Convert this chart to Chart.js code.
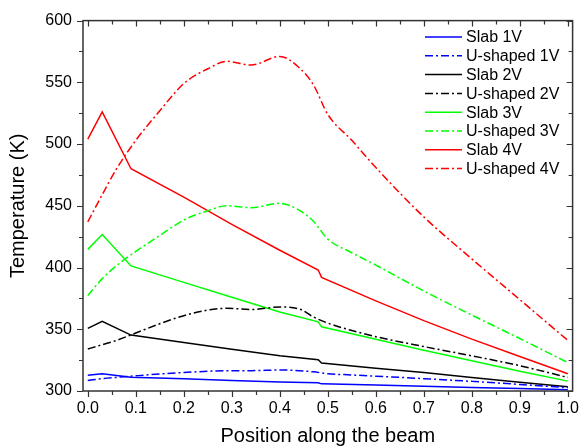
<!DOCTYPE html>
<html>
<head>
<meta charset="utf-8">
<title>Temperature along the beam</title>
<script src="https://cdn.jsdelivr.net/npm/chart.js@4"></script>
<style>
  html, body { margin: 0; padding: 0; background: #fff; }
</style>
</head>
<body>
<canvas id="tempChart" width="587" height="448"></canvas>
<script>
// Positions along the beam (slab curves share the same kinks)
const slabX = [0, 0.03, 0.09, 0.2, 0.3, 0.4, 0.48, 0.487, 0.6, 0.7, 0.8, 0.9, 1.0];
const slab1V = [312.8, 314, 311.2, 310, 308.5, 307.3, 306.7, 305.8, 304.8, 303.8, 302.9, 302, 301];
const slab2V = [350.7, 356.5, 345.3, 339.3, 333.8, 328.5, 325.3, 322.7, 318.5, 315, 311, 307, 303.5];
const slab3V = [414.7, 426.7, 401.3, 388, 376, 364, 356, 352, 342, 333, 324.5, 316, 308];
const slab4V = [504, 526, 480, 457, 435, 414, 398, 392, 373, 357, 342, 328, 314];

// U-shaped beam curves
const uX = [0, 0.03, 0.06, 0.1, 0.15, 0.2, 0.25, 0.29, 0.34, 0.4, 0.44, 0.47, 0.5, 0.55, 0.6, 0.7, 0.8, 0.9, 1.0];
const uShaped1V = [308.5, 310, 311, 312.3, 313.8, 315, 316, 316.5, 316.5, 317, 316.5, 315.5, 314, 313, 312, 310, 307.8, 305.3, 302.7];
const uShaped2V = [334, 337.5, 341, 347, 354.5, 361, 365.5, 367, 366, 368, 366.5, 360, 355, 349, 344, 336, 328.5, 320.5, 311];
const uShaped3V = [377.3, 391, 401.5, 413, 426, 438.5, 446, 450, 448.5, 452, 446.5, 437.5, 423, 412, 402, 381, 361.5, 342.5, 323];
const uShaped4V = [437, 459, 480, 503, 527, 549, 561, 567, 564, 571, 562, 548, 524, 503, 481, 441, 407, 374, 341];

const xTickValues = [0, 0.1, 0.2, 0.3, 0.4, 0.5, 0.6, 0.7, 0.8, 0.9, 1.0];
const yTickValues = [300, 350, 400, 450, 500, 550, 600];

const dashDot = [8, 3, 2, 3];

Chart.defaults.font.family = '"Liberation Sans", Arial, sans-serif';
Chart.defaults.color = '#000';

function pts(xs, ys) {
  return xs.map((x, i) => ({ x: x, y: ys[i] }));
}

function series(label, xs, ys, color, dashed) {
  return {
    label: label,
    data: pts(xs, ys),
    borderColor: color,
    borderWidth: 1.5,
    borderDash: dashed ? dashDot : [],
    pointRadius: 0,
    fill: false,
    tension: 0,
    cubicInterpolationMode: dashed ? 'monotone' : 'default'
  };
}

// Box around the plot with minor/major ticks (outside on bottom/left, inside on top/right)
const frameAndTicks = {
  id: 'frameAndTicks',
  afterDraw(chart) {
    const { ctx, chartArea: a, scales: { x, y } } = chart;
    ctx.save();
    ctx.strokeStyle = '#333';
    ctx.lineWidth = 1.5;
    ctx.strokeRect(a.left, a.top, a.right - a.left, a.bottom - a.top);
    ctx.lineWidth = 1.2;
    ctx.beginPath();
    for (let i = 0; i <= 20; i++) {
      const px = Math.round(x.getPixelForValue(i * 0.05)) + 0.5;
      const len = i % 2 === 0 ? 6 : 4;
      ctx.moveTo(px, a.bottom); ctx.lineTo(px, a.bottom + len);
      ctx.moveTo(px, a.top); ctx.lineTo(px, a.top + len);
    }
    for (let i = 0; i <= 12; i++) {
      const py = Math.round(y.getPixelForValue(300 + i * 25)) + 0.5;
      const len = i % 2 === 0 ? 6 : 4;
      ctx.moveTo(a.left - len, py); ctx.lineTo(a.left, py);
      ctx.moveTo(a.right - len, py); ctx.lineTo(a.right, py);
    }
    ctx.stroke();
    ctx.restore();
  }
};

// Legend drawn inside the plot, top right
const insideLegend = {
  id: 'insideLegend',
  afterDraw(chart) {
    const ctx = chart.ctx;
    ctx.save();
    ctx.font = '16px "Liberation Sans", Arial, sans-serif';
    ctx.textBaseline = 'middle';
    ctx.fillStyle = '#000';
    chart.data.datasets.forEach((ds, i) => {
      const yy = 37 + i * 18.8;
      ctx.strokeStyle = ds.borderColor;
      ctx.lineWidth = ds.borderWidth;
      ctx.setLineDash(ds.borderDash);
      ctx.beginPath();
      ctx.moveTo(425, yy);
      ctx.lineTo(462, yy);
      ctx.stroke();
      ctx.setLineDash([]);
      ctx.fillText(ds.label, 466, yy + 1);
    });
    ctx.restore();
  }
};

const ctx = document.getElementById('tempChart').getContext('2d');
new Chart(ctx, {
  type: 'line',
  data: {
    datasets: [
      series('Slab 1V', slabX, slab1V, '#0000ff', false),
      series('U-shaped 1V', uX, uShaped1V, '#0000ff', true),
      series('Slab 2V', slabX, slab2V, '#000000', false),
      series('U-shaped 2V', uX, uShaped2V, '#000000', true),
      series('Slab 3V', slabX, slab3V, '#00ff00', false),
      series('U-shaped 3V', uX, uShaped3V, '#00ff00', true),
      series('Slab 4V', slabX, slab4V, '#ff0000', false),
      series('U-shaped 4V', uX, uShaped4V, '#ff0000', true)
    ]
  },
  options: {
    responsive: false,
    animation: false,
    layout: { padding: { top: 15, right: 8, left: 0, bottom: 0 } },
    plugins: {
      legend: { display: false },
      tooltip: { enabled: false }
    },
    scales: {
      x: {
        type: 'linear',
        min: -0.01,
        max: 1.01,
        grid: { display: false, drawTicks: false },
        border: { display: false },
        afterBuildTicks: s => { s.ticks = xTickValues.map(v => ({ value: v })); },
        afterFit: s => { s.height = 57; },
        ticks: {
          padding: 8,
          font: { size: 16 },
          maxRotation: 0,
          autoSkip: false,
          callback: v => v.toFixed(1)
        },
        title: {
          display: true,
          text: 'Position along the beam',
          font: { size: 20 },
          padding: { top: 0, bottom: 0 }
        }
      },
      y: {
        type: 'linear',
        min: 300,
        max: 600,
        grid: { display: false, drawTicks: false },
        border: { display: false },
        afterBuildTicks: s => { s.ticks = yTickValues.map(v => ({ value: v })); },
        afterFit: s => { s.width = 83; },
        ticks: {
          padding: 11,
          font: { size: 16 }
        },
        title: {
          display: true,
          text: 'Temperature (K)',
          font: { size: 20 },
          padding: { top: 6, bottom: 0 }
        }
      }
    }
  },
  plugins: [frameAndTicks, insideLegend]
});
</script>
</body>
</html>
